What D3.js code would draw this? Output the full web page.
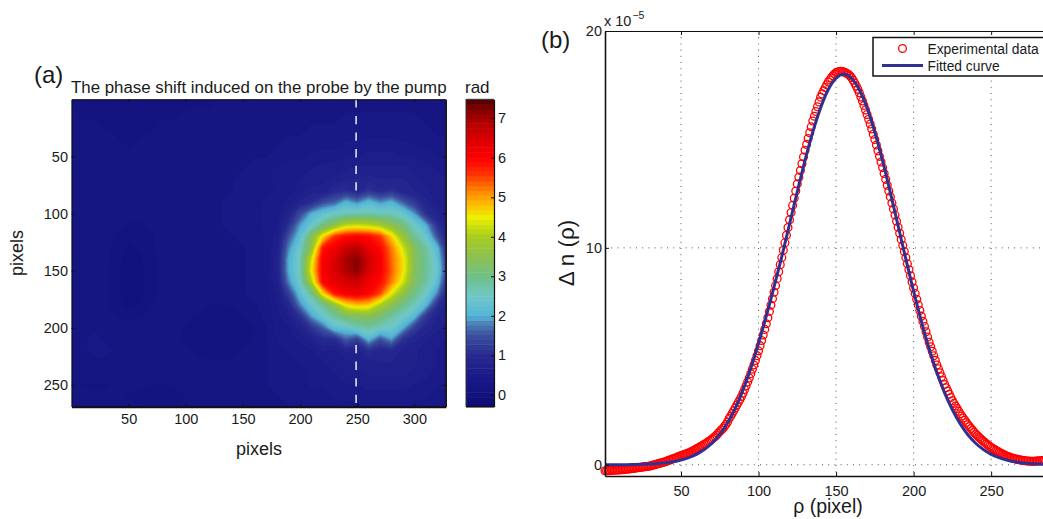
<!DOCTYPE html>
<html>
<head>
<meta charset="utf-8">
<script src="https://cdn.jsdelivr.net/npm/d3@7"></script>
<style>
  html, body { margin: 0; padding: 0; background: #fff; overflow: hidden; }
  svg { display: block; }
  text { font-family: "Liberation Sans", Arial, sans-serif; fill: #1a1a1a; }
  .tick text { font-size: 14.5px; }
</style>
</head>
<body>
<svg id="vis" width="1043" height="519"></svg>
<script>
// (a) phase map, values in rad at the grid crossings
const gridX = [1,10,20,30,40,50,60,70,80,90,100,110,120,130,140,150,160,170,180,190,200,210,220,230,240,250,260,270,280,290,300,310,320,327];
const gridY = [1,10,20,30,40,50,60,70,80,90,100,110,120,130,140,150,160,170,180,190,200,210,220,230,240,250,260,269];
const phaseRows = [
  [.15,.15,.15,.15,.15,.15,.15,.15,.15,.15,.15,.15,.15,.2,.2,.2,.2,.2, .2,.2,.25,.25,.25,.25,.25,.25,.25,.25,.25,.25,.25,.25,.2,.2],
  [.2,.15,.15,.15,.15,.15,.15,.15,.15,.15,.2,.2,.2,.2,.2,.2,.2,.2, .25,.25,.25,.3,.3,.3,.3,.3,.3,.3,.3,.3,.3,.3,.25,.25],
  [.2,.2,.2,.15,.15,.15,.15,.15,.2,.2,.2,.2,.2,.2,.2,.2,.25,.25, .25,.3,.3,.3,.3,.3,.35,.35,.35,.35,.35,.35,.35,.3,.3,.3],
  [.2,.2,.2,.2,.18,.18,.18,.2,.2,.2,.2,.2,.2,.2,.25,.25,.25,.3, .3,.3,.3,.35,.35,.35,.4,.4,.4,.4,.4,.4,.35,.35,.3,.3],
  [.25,.2,.2,.2,.2,.18,.2,.2,.2,.2,.2,.25,.25,.25,.25,.25,.3,.3, .3,.35,.35,.4,.4,.4,.45,.45,.5,.5,.5,.45,.45,.4,.35,.35],
  [.25,.25,.2,.2,.2,.2,.2,.2,.2,.25,.25,.25,.25,.25,.3,.3,.3,.3, .35,.4,.4,.45,.5,.5,.55,.55,.6,.6,.6,.55,.55,.5,.45,.4],
  [.25,.25,.25,.2,.2,.2,.2,.2,.25,.25,.25,.25,.25,.3,.3,.3,.35,.4, .45,.5,.5,.55,.6,.6,.65,.7,.7,.7,.7,.7,.65,.6,.55,.5],
  [.25,.25,.25,.25,.2,.2,.2,.25,.25,.25,.25,.25,.3,.3,.3,.35,.35,.4, .45,.5,.55,.6,.65,.7,.8,.8,.85,.8,.8,.8,.7,.65,.6,.55],
  [.3,.25,.25,.25,.2,.2,.25,.25,.25,.25,.3,.3,.3,.3,.3,.35,.4,.4, .45,.5,.6,.75,.7,.95,1.05,.85,1.15,.95,1.1,.85,.8,.7,.6,.55],
  [.3,.25,.25,.25,.2,.2,.25,.25,.25,.3,.3,.3,.3,.3,.35,.35,.4,.45, .5,.6,.85,1.0,1.45,1.6,2.05,1.8,2.15,1.85,2.05,1.6,1.2,.85,.65,.6],
  [.3,.3,.25,.25,.2,.2,.2,.25,.25,.3,.3,.3,.3,.3,.35,.35,.4,.45, .5,.8,1.4,2.0,2.3,2.5,2.6,2.7,2.7,2.6,2.6,2.4,1.9,1.1,.8,.65],
  [.3,.3,.25,.25,.2,.18,.18,.2,.25,.3,.3,.3,.3,.3,.35,.35,.4,.45, .55,1.1,1.9,2.4,3.0,3.5,4.1,4.2,4.1,3.9,3.5,3.1,2.5,2.0,1.1,.8],
  [.3,.3,.25,.22,.18,.1,.1,.18,.22,.25,.3,.3,.3,.3,.3,.35,.35,.45, .6,1.5,2.2,3.4,4.6,5.6,5.9,6.0,5.9,5.6,4.7,3.7,2.9,2.4,1.5,.9],
  [.3,.3,.25,.22,.15,.05,.08,.18,.22,.25,.25,.25,.25,.3,.3,.3,.35,.45, .7,1.8,2.5,3.6,5.8,6.2,6.6,6.8,6.3,5.95,5.2,4.3,3.4,2.8,2.1,1.2],
  [.3,.3,.25,.22,.12,.0,.05,.15,.22,.25,.25,.25,.25,.3,.3,.3,.35,.45, .75,2.0,2.6,4.3,6.1,6.4,7.0,7.2,6.6,6.1,5.3,4.6,3.4,2.9,2.3,1.4],
  [.3,.3,.25,.22,.1,-.03,.03,.15,.22,.25,.25,.25,.25,.3,.3,.3,.35,.45, .75,2.0,2.6,4.5,6.1,6.5,6.9,7.2,6.5,6.1,5.35,4.6,3.4,2.9,2.4,1.5],
  [.3,.3,.25,.22,.1,-.05,.02,.15,.22,.25,.25,.25,.22,.25,.3,.3,.35,.4, .7,1.8,2.5,4.0,6.0,6.3,6.5,6.6,6.2,5.9,5.2,4.3,3.3,2.8,2.2,1.3],
  [.3,.3,.25,.22,.1,-.05,.02,.15,.22,.22,.25,.25,.22,.25,.3,.3,.35,.4, .6,1.3,2.2,2.9,4.6,5.8,6.1,6.2,6.0,5.5,4.4,3.6,3.0,2.5,1.8,1.0],
  [.3,.3,.3,.22,.12,.03,.08,.18,.22,.22,.22,.22,.18,.18,.2,.22,.3,.35, .55,.9,1.8,2.4,2.9,3.6,4.5,4.8,4.7,4.0,3.5,3.0,2.6,2.1,1.1,.8],
  [.3,.3,.3,.25,.2,.15,.18,.22,.22,.22,.2,.18,.13,.13,.13,.18,.25,.35, .5,.7,1.1,1.9,2.4,2.8,3.2,3.3,3.4,3.2,2.8,2.5,2.1,1.2,.8,.7],
  [.3,.3,.3,.3,.3,.25,.25,.25,.22,.2,.18,.13,.1,.08,.08,.1,.2,.3, .5,.55,.75,1.15,1.6,2.25,2.3,2.65,2.8,2.55,2.45,2.0,1.3,.9,.7,.65],
  [.3,.3,.32,.3,.3,.25,.25,.25,.22,.2,.18,.13,.1,.08,.08,.12,.2,.3, .45,.5,.6,.75,1.0,1.0,1.6,1.3,2.1,1.5,1.9,1.1,.85,.7,.6,.55],
  [.3,.3,.32,.32,.3,.3,.25,.25,.25,.22,.2,.18,.15,.15,.15,.2,.25,.3, .4,.45,.5,.55,.7,.65,.85,.75,1.05,.85,.95,.75,.7,.6,.55,.5],
  [.25,.25,.3,.3,.3,.3,.25,.25,.25,.25,.22,.2,.2,.2,.2,.25,.25,.3, .35,.4,.45,.5,.55,.6,.65,.7,.75,.8,.8,.75,.7,.6,.55,.5],
  [.22,.22,.22,.25,.25,.25,.25,.25,.25,.25,.25,.25,.22,.22,.25,.25,.3,.3, .35,.4,.4,.45,.5,.55,.6,.65,.7,.7,.7,.7,.65,.6,.5,.45],
  [.22,.18,.18,.18,.2,.2,.2,.2,.18,.2,.25,.25,.25,.25,.25,.25,.3,.3, .35,.35,.4,.45,.45,.5,.55,.55,.6,.6,.6,.6,.55,.5,.45,.4],
  [.22,.22,.2,.2,.2,.18,.15,.12,.08,.12,.2,.22,.25,.25,.25,.25,.25,.3, .3,.35,.35,.4,.4,.45,.45,.5,.5,.5,.5,.5,.45,.45,.4,.35],
  [.25,.25,.25,.22,.2,.2,.2,.18,.15,.18,.2,.22,.25,.25,.25,.25,.25,.3, .3,.3,.35,.35,.4,.4,.4,.4,.45,.45,.45,.45,.4,.4,.35,.35]
];
const dashTop = [0, 80];
const dashBottom = [215, 269];
const dashAt = 249;

// colour bar stops
const colorVals = [-0.3, 0.0, 0.5, 1.0, 1.5, 1.8, 2.0, 2.5, 3.0, 3.5, 4.0, 4.5, 4.8, 5.2, 5.6, 6.0, 6.5, 7.0, 7.48];
const colorHex = ["#0e0a72", "#12127f", "#1a1a88", "#282a90", "#3a4e9e", "#4c7eb4", "#52b4d8", "#70c8c8", "#70c088", "#8cc050", "#a8cc20", "#ecf000", "#ffc000", "#ff8000", "#ff3000", "#ff0000", "#d80000", "#a80000", "#500000"];
const barTicks = [0, 1, 2, 3, 4, 5, 6, 7];
const mapTicksX = [50, 100, 150, 200, 250, 300];
const mapTicksY = [50, 100, 150, 200, 250];

// (b) profile, in units of 1e-5. measured has one value per pixel from 1 to 284
const measured = [
  -.28,-.28,-.27,-.27,-.26,-.26,-.25,-.25,-.24,-.24,
  -.23,-.23,-.22,-.21,-.21,-.20,-.19,-.18,-.17,-.16,
  -.15,-.14,-.13,-.12,-.11,-.10,-.09,-.08,-.07,-.06,
  -.04,-.02,0,.02,.04,.06,.08,.10,.12,.14,
  .17,.20,.22,.25,.28,.30,.33,.36,.39,.42,
  .44,.47,.49,.52,.55,.58,.61,.65,.69,.73,
  .77,.81,.85,.89,.94,.98,1.03,1.08,1.13,1.18,
  1.24,1.30,1.37,1.45,1.53,1.60,1.67,1.76,1.86,1.97,
  2.13,2.24,2.36,2.49,2.62,2.75,2.88,3.01,3.15,3.30,
  3.47,3.64,3.82,4.00,4.20,4.40,4.60,4.81,5.03,5.25,
  5.49,5.73,5.98,6.24,6.50,6.78,7.07,7.36,7.65,7.95,
  8.26,8.58,8.90,9.22,9.55,9.89,10.23,10.58,10.94,11.30,
  11.63,11.96,12.29,12.62,12.95,13.26,13.57,13.88,14.19,14.50,
  14.77,15.04,15.31,15.58,15.85,16.07,16.29,16.51,16.73,16.95,
  17.10,17.25,17.39,17.52,17.65,17.75,17.85,17.94,18.02,18.08,
  18.11,18.13,18.14,18.13,18.11,18.08,18.04,17.99,17.93,17.85,
  17.73,17.60,17.46,17.31,17.15,16.96,16.77,16.57,16.36,16.15,
  15.93,15.71,15.48,15.24,15.00,14.74,14.48,14.22,13.96,13.70,
  13.43,13.16,12.89,12.62,12.35,12.07,11.79,11.51,11.23,10.95,
  10.67,10.39,10.11,9.83,9.55,9.27,8.99,8.71,8.43,8.15,
  7.89,7.63,7.37,7.11,6.85,6.61,6.37,6.13,5.89,5.65,
  5.44,5.23,5.02,4.81,4.60,4.42,4.24,4.06,3.88,3.70,
  3.55,3.40,3.25,3.10,2.95,2.83,2.71,2.59,2.47,2.35,
  2.25,2.15,2.05,1.95,1.85,1.76,1.67,1.59,1.50,1.42,
  1.35,1.28,1.21,1.14,1.08,1.02,.96,.91,.85,.80,
  .75,.71,.66,.62,.58,.54,.50,.47,.43,.40,
  .37,.35,.32,.30,.28,.26,.25,.23,.22,.20,
  .19,.18,.17,.17,.16,.16,.16,.16,.17,.17,.18,.18,.19,.20
];
const fitX = [1,5,10,15,20,25,30,35,40,45,50,55,60,65,70,75,80,85,90,95,100,105,110,115,120,125,130,135,140,145,150,155,160,165,170,175,180,185,190,195,200,205,210,215,220,225,230,235,240,245,250,255,260,265,270,275,280,285];
const fitY = [0,0,0,0,.01,.02,.03,.06,.09,.14,.22,.33,.48,.70,.99,1.40,1.92,2.6,3.45,4.45,5.6,6.85,8.2,9.6,11.1,12.6,14.05,15.35,16.45,17.3,17.82,18,17.82,17.29,16.45,15.33,14.01,12.55,11.02,9.48,7.99,6.61,5.35,4.25,3.31,2.53,1.89,1.38,.99,.70,.48,.33,.22,.14,.09,.056,.034,.02];
const profTicksX = [50, 100, 150, 200, 250];
const profTicksY = [0, 10, 20];

var svg = d3.select("svg#vis");

var map = { left: 71.5, right: 445.7, top: 99.3, bottom: 406.7 };
var bar = { left: 466, right: 494 };
var prof = { left: 605, right: 1049, top: 31, bottom: 476 };

// ---- (a) ----
var xMap = d3.scaleLinear().domain([0, 327.4]).range([map.left, map.right]);
var yMap = d3.scaleLinear().domain([0, 269]).range([map.top, map.bottom]);
var color = d3.scaleLinear().domain(colorVals).range(colorHex);

var yBar = d3.scaleLinear().domain([-0.3, 7.48]).range([map.bottom, map.top]);
var levels = d3.range(64).map(i => -0.3 + i * (7.78 / 64));

svg.append("clipPath").attr("id", "mapClip").append("rect")
  .attr("x", map.left).attr("y", map.top)
  .attr("width", map.right - map.left).attr("height", map.bottom - map.top);

// grid index -> pixel, d3.contours puts sample i at i + 0.5
var colToX = d3.scaleLinear().domain(gridX.map((d, i) => i + 0.5)).range(gridX.map(d => xMap(d))).clamp(true);
var rowToY = d3.scaleLinear().domain(gridY.map((d, i) => i + 0.5)).range(gridY.map(d => yMap(d))).clamp(true);

var flat = phaseRows.flat();
var bands = d3.contours().size([gridX.length, gridY.length]).thresholds(levels)(flat);
var bandPath = d3.geoPath(d3.geoTransform({
  point: function(x, y) { this.stream.point(colToX(x), rowToY(y)); }
}));

var gMap = svg.append("g").attr("clip-path", "url(#mapClip)");
gMap.append("rect")
  .attr("x", map.left).attr("y", map.top)
  .attr("width", map.right - map.left).attr("height", map.bottom - map.top)
  .attr("fill", color(-0.3));
gMap.selectAll("path.band")
  .data(bands)
  .enter().append("path")
  .attr("class", "band")
  .attr("d", bandPath)
  .attr("fill", d => color(d.value + 0.06))
  .attr("stroke", d => color(d.value + 0.06))
  .attr("stroke-width", 0.4);

// white dashed line, hidden where the spot is
[dashTop, dashBottom].forEach(function(seg) {
  gMap.append("line")
    .attr("x1", xMap(dashAt)).attr("x2", xMap(dashAt))
    .attr("y1", yMap(seg[0])).attr("y2", yMap(seg[1]))
    .attr("stroke", "#fff").attr("stroke-width", 1.4)
    .attr("stroke-dasharray", "8.3 8.3");
});

function frame(axisG) {
  axisG.selectAll("path.domain").attr("stroke", "#111");
  axisG.selectAll(".tick line").attr("stroke", "#111");
  axisG.selectAll(".tick text").attr("fill", "#1a1a1a");
}

svg.append("g").attr("transform", translate(0, map.bottom))
  .call(d3.axisBottom(xMap).tickValues(mapTicksX).tickSize(-3).tickPadding(7).tickSizeOuter(0))
  .call(frame).call(g => g.select("path.domain").attr("stroke-width", 2));
svg.append("g").attr("transform", translate(0, map.top))
  .call(d3.axisTop(xMap).tickValues(mapTicksX).tickSize(-3).tickFormat("").tickSizeOuter(0))
  .call(frame);
svg.append("g").attr("transform", translate(map.left, 0))
  .call(d3.axisLeft(yMap).tickValues(mapTicksY).tickSize(-3).tickPadding(3.5).tickSizeOuter(0))
  .call(frame);
svg.append("g").attr("transform", translate(map.right, 0))
  .call(d3.axisRight(yMap).tickValues(mapTicksY).tickSize(-3).tickFormat("").tickSizeOuter(0))
  .call(frame).call(g => g.select("path.domain").attr("stroke-width", 1.5));

svg.append("text").attr("x", 71).attr("y", 93).attr("font-size", 16.85)
  .text("The phase shift induced on the probe by the pump");
svg.append("text").attr("x", 34).attr("y", 83).attr("font-size", 24).text("(a)");
svg.append("text").attr("x", 259).attr("y", 455).attr("text-anchor", "middle").attr("font-size", 18).text("pixels");
svg.append("text").attr("transform", "translate(23,253) rotate(-90)").attr("text-anchor", "middle").attr("font-size", 18).text("pixels");

// colour bar
svg.selectAll("rect.level")
  .data(levels)
  .enter().append("rect")
  .attr("class", "level")
  .attr("x", bar.left).attr("width", bar.right - bar.left)
  .attr("y", d => yBar(d + 7.78 / 64))
  .attr("height", (map.bottom - map.top) / 64 + 0.5)
  .attr("fill", d => color(d + 0.06));
svg.append("g").attr("transform", translate(bar.right, 0))
  .call(d3.axisRight(yBar).tickValues(barTicks).tickSize(-3).tickPadding(4).tickSizeOuter(0))
  .call(frame).call(g => g.select("path.domain").attr("stroke-width", 1.2));
svg.append("line").attr("x1", bar.left).attr("x2", bar.left).attr("y1", map.top).attr("y2", map.bottom).attr("stroke", "#333").attr("stroke-width", 1);
svg.append("line").attr("x1", bar.left).attr("x2", bar.right).attr("y1", map.top).attr("y2", map.top).attr("stroke", "#333").attr("stroke-width", 1);
svg.append("line").attr("x1", bar.left).attr("x2", bar.right).attr("y1", map.bottom).attr("y2", map.bottom).attr("stroke", "#111").attr("stroke-width", 1.5);
svg.append("text").attr("x", 465).attr("y", 93).attr("font-size", 17).text("rad");

// ---- (b) ----
var xProf = d3.scaleLinear().domain([1, 287.3]).range([prof.left, prof.right]);
var yProf = d3.scaleLinear().domain([-0.52, 20]).range([prof.bottom, prof.top]);

var gProf = svg.append("g");

// dotted grid
gProf.selectAll("line.gx").data(profTicksX).enter().append("line")
  .attr("class", "gx")
  .attr("x1", d => xProf(d)).attr("x2", d => xProf(d))
  .attr("y1", prof.top).attr("y2", prof.bottom)
  .attr("stroke", "#555").attr("stroke-dasharray", "1 5.2");
gProf.selectAll("line.gy").data(profTicksY.slice(0, 2)).enter().append("line")
  .attr("class", "gy")
  .attr("x1", prof.left).attr("x2", prof.right)
  .attr("y1", d => yProf(d)).attr("y2", d => yProf(d))
  .attr("stroke", "#555").attr("stroke-dasharray", "1 5.2");

gProf.selectAll("circle.data")
  .data(measured)
  .enter().append("circle")
  .attr("class", "data")
  .attr("cx", (d, i) => xProf(i + 1))
  .attr("cy", d => yProf(d))
  .attr("r", 3.9)
  .attr("fill", "none")
  .attr("stroke", "#ff0000")
  .attr("stroke-width", 1.3);

var fitLine = d3.line()
  .x((d, i) => xProf(fitX[i]))
  .y(d => yProf(d))
  .curve(d3.curveMonotoneX);

gProf.append("path")
  .attr("d", fitLine(fitY))
  .attr("fill", "none")
  .attr("stroke", "#2e3192")
  .attr("stroke-width", 3);

svg.append("g").attr("transform", translate(0, prof.bottom))
  .call(d3.axisBottom(xProf).tickValues(profTicksX).tickSize(-4).tickPadding(10).tickSizeOuter(0))
  .call(frame).call(g => g.select("path.domain").attr("stroke-width", 1.6));
svg.append("g").attr("transform", translate(0, prof.top))
  .call(d3.axisTop(xProf).tickValues(profTicksX).tickSize(-4).tickFormat("").tickSizeOuter(0))
  .call(frame);
svg.append("g").attr("transform", translate(prof.left, 0))
  .call(d3.axisLeft(yProf).tickValues(profTicksY).tickSize(-4).tickPadding(3).tickSizeOuter(0))
  .call(frame).call(g => g.select("path.domain").attr("stroke-width", 1.6));

// legend
var legend = svg.append("g");
legend.append("rect").attr("x", 873).attr("y", 37.5).attr("width", 180).attr("height", 38.5)
  .attr("fill", "#fff").attr("stroke", "#111").attr("stroke-width", 1.5);
legend.append("circle").attr("cx", 902.5).attr("cy", 48.5).attr("r", 3.9)
  .attr("fill", "none").attr("stroke", "#ff0000").attr("stroke-width", 1.3);
legend.append("line").attr("x1", 882).attr("x2", 923).attr("y1", 65.5).attr("y2", 65.5)
  .attr("stroke", "#2e3192").attr("stroke-width", 3);
legend.append("text").attr("x", 927.5).attr("y", 54).attr("font-size", 13.8).text("Experimental data");
legend.append("text").attr("x", 927.5).attr("y", 70.5).attr("font-size", 13.8).text("Fitted curve");

svg.append("text").attr("x", 541).attr("y", 48).attr("font-size", 24).text("(b)");
var expo = svg.append("text").attr("x", 604).attr("y", 25.5).attr("font-size", 14.5);
expo.append("tspan").text("x 10");
expo.append("tspan").attr("font-size", 10.5).attr("dy", -7).attr("dx", 1).text("\u22125");
svg.append("text").attr("x", 828).attr("y", 513).attr("text-anchor", "middle").attr("font-size", 19.5).text("\u03c1 (pixel)");
svg.append("text").attr("transform", "translate(574,253) rotate(-90)").attr("text-anchor", "middle").attr("font-size", 22.5).text("\u0394 n (\u03c1)");

function translate(x, y) {
  return "translate(" + String(x) + "," + String(y) + ")";
}
</script>
</body>
</html>
